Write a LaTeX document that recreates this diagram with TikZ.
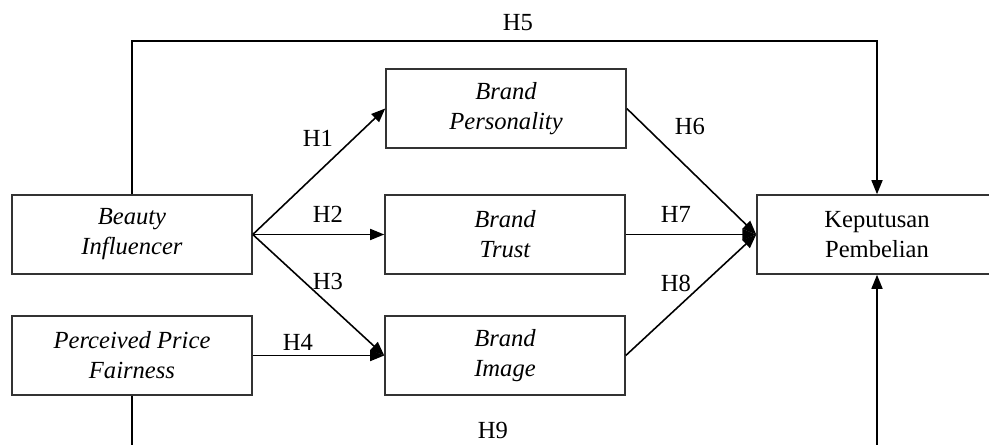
\documentclass[tikz,border=0pt]{standalone}
\usepackage{fontspec}
\setmainfont{Liberation Serif}
\usepackage{tikz}
\usetikzlibrary{arrows.meta}

\begin{document}
\begin{tikzpicture}[x=0.02cm,y=-0.02cm,
    var/.style={draw=black!80,line width=0.9pt,minimum width=4.8cm,minimum height=1.58cm,
      align=center,font=\fontsize{14}{17}\selectfont\itshape},
    hyp/.style={font=\fontsize{14}{17}\selectfont},
    link/.style={line width=0.9pt,-{Triangle[length=2.8mm,width=2.2mm]}}]
    \useasboundingbox (0,0) rectangle (989,445);
    % variables
    \node[var] (bi)  at (132,234.5) {Beauty\\Influencer};
    \node[var] (ppf) at (132,355.5) {Perceived Price\\Fairness};
    \node[var] (bp)  at (506,108.5) {Brand\\Personality};
    \node[var] (bt)  at (505,234.5) {Brand\\Trust};
    \node[var] (bim) at (505,355.5) {Brand\\Image};
    \node[var,font=\fontsize{14}{17}\selectfont] (kp) at (877,234.5) {Keputusan\\Pembelian};
    % paths
    \foreach \t in {bp,bt,bim}
      \draw[link] (bi.east) -- (\t.west);
    \draw[link] (ppf.east) -- (bim.west);
    \foreach \s in {bp,bt,bim}
      \draw[link] (\s.east) -- (kp.west);
    \draw[link] (bi.north) -- (bi.north |- 0,41) -| (kp.north);
    \draw[link] (ppf.south) -- (ppf.south |- 0,455) -| (kp.south);
    % labels
    \node[hyp] (h1) at (318,138) {H1};
    \node[hyp] (h2) at (328,214) {H2};
    \node[hyp] (h3) at (328,281) {H3};
    \node[hyp] (h4) at (298,342) {H4};
    \node[hyp] (h5) at (518,23) {H5};
    \node[hyp] (h6) at (690,126) {H6};
    \node[hyp] (h7) at (676,214) {H7};
    \node[hyp] (h8) at (676,283) {H8};
    \node[hyp] (h9) at (493,430) {H9};
  \end{tikzpicture}
\end{document}
